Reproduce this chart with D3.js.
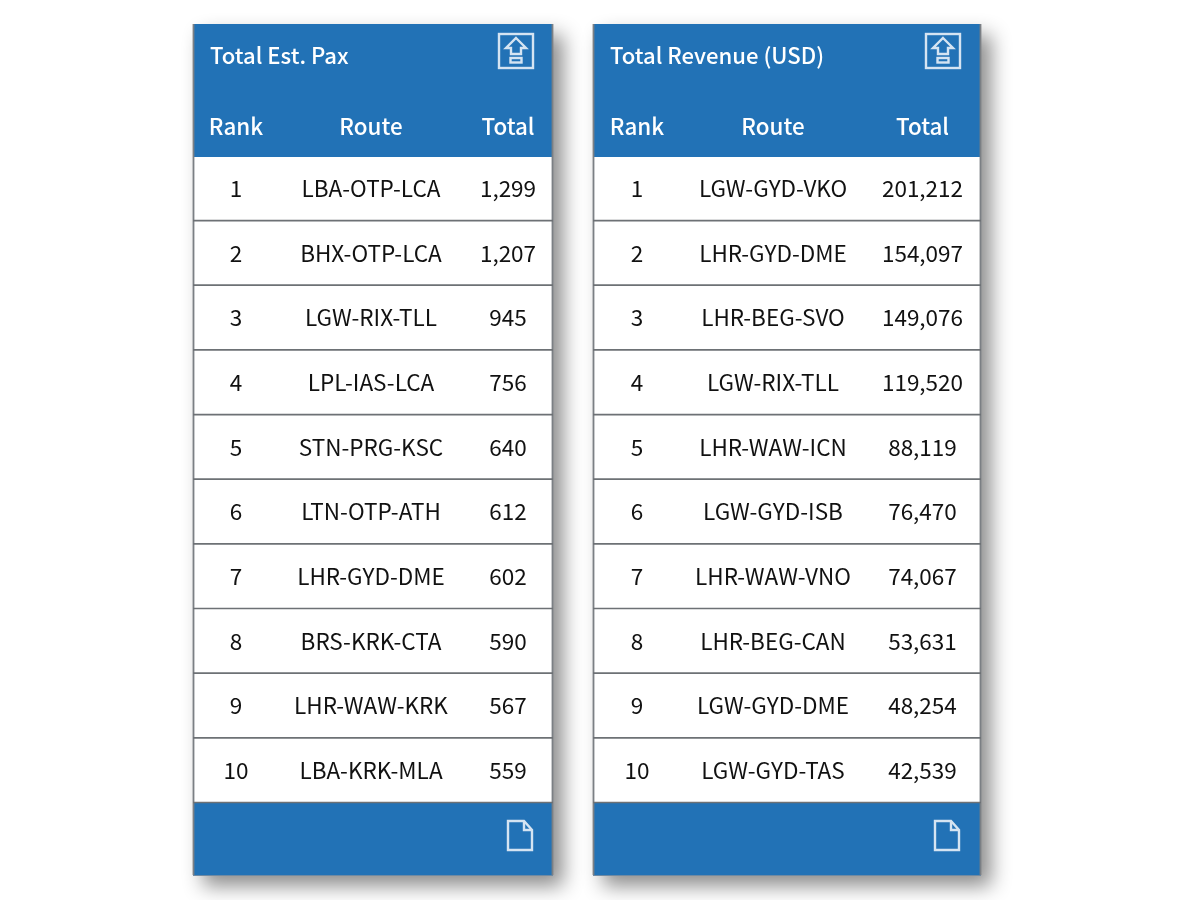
<!DOCTYPE html>
<html><head><meta charset="utf-8">
<script src="https://cdn.jsdelivr.net/npm/d3@7"></script>
<style>html,body{margin:0;background:#fff}svg{display:block;filter:blur(0.4px)}text{font-family:"Noto Sans CJK JP","Noto Sans",sans-serif}</style>
</head><body><div id="c"></div>
<script>
const ranks=[1,2,3,4,5,6,7,8,9,10];
const paxRoutes=["LBA-OTP-LCA","BHX-OTP-LCA","LGW-RIX-TLL","LPL-IAS-LCA","STN-PRG-KSC","LTN-OTP-ATH","LHR-GYD-DME","BRS-KRK-CTA","LHR-WAW-KRK","LBA-KRK-MLA"];
const paxTotals=[1299,1207,945,756,640,612,602,590,567,559];
const revRoutes=["LGW-GYD-VKO","LHR-GYD-DME","LHR-BEG-SVO","LGW-RIX-TLL","LHR-WAW-ICN","LGW-GYD-ISB","LHR-WAW-VNO","LHR-BEG-CAN","LGW-GYD-DME","LGW-GYD-TAS"];
const revTotals=[201212,154097,149076,119520,88119,76470,74067,53631,48254,42539];
const headers=["Rank","Route","Total"];
const BLUE="#2372b6";
const fmt=d3.format(",");
const svg=d3.select("#c").append("svg").attr("width",1200).attr("height",900);
const defs=svg.append("defs");
const f=defs.append("filter").attr("id","sh").attr("x","-15%").attr("y","-10%").attr("width","140%").attr("height","125%");
f.append("feDropShadow").attr("dx",10).attr("dy",11).attr("stdDeviation",10).attr("flood-color","#000").attr("flood-opacity",0.45);
const y=d3.scaleBand().domain(ranks).range([156.6,803.2]);
function panel(o){
 const g=svg.append("g");
 const x0=o.x,x1=o.x+o.w;
 g.append("rect").attr("x",x0).attr("y",24).attr("width",o.w).attr("height",851).attr("fill",BLUE).attr("filter","url(#sh)");
 g.append("rect").attr("x",x0).attr("y",157).attr("width",o.w).attr("height",645).attr("fill","#fff");
 g.append("path").attr("d",`M${x0+.5},24V875M${x1-.5},24V875`).attr("stroke","#7b7f84").attr("stroke-width",1.8).attr("fill","none");
 g.append("path").attr("d",`M${x0},875.5H${x1}`).attr("stroke","#6f8aa3").attr("stroke-width",1);
 g.append("text").attr("x",x0+17).attr("y",64).attr("fill","#fff").attr("font-size",22.1).attr("font-weight",500).text(o.title);
 const xs=o.cols;
 g.selectAll(".h").data(headers).join("text").attr("x",(d,i)=>xs[i]).attr("y",135).attr("text-anchor","middle").attr("fill","#fff").attr("font-size",22.4).attr("font-weight",500).text(d=>d);
 const rows=g.selectAll(".r").data(ranks.map((r,i)=>({r,route:o.routes[i],total:o.totals[i]}))).join("g").attr("transform",d=>`translate(0,${y(d.r)})`);
 rows.append("line").attr("x1",x0).attr("x2",x1).attr("y1",y.bandwidth()-.7).attr("y2",y.bandwidth()-.7).attr("stroke","#6d7175").attr("stroke-width",1.7);
 const t=(v,i)=>rows.append("text").attr("x",xs[i]).attr("y",40.5).attr("text-anchor","middle").attr("fill","#111").attr("font-size",22.5).text(v);
 t(d=>d.r,0);t(d=>d.route,1);t(d=>fmt(d.total),2);
 const ic=g.append("g").attr("transform",`translate(${o.icon},33)`).attr("fill","none").attr("stroke","#d5e4f2").attr("stroke-width",2.4);
 ic.append("rect").attr("x",1).attr("y",1).attr("width",34).attr("height",34);
 ic.append("path").attr("d","M18,5L28,15H23V21H13V15H8Z");
 ic.append("rect").attr("x",12.5).attr("y",25).attr("width",11).attr("height",4.5);
 const dc=g.append("g").attr("transform",`translate(${o.doc},820)`).attr("fill","none").attr("stroke","#d5e4f2").attr("stroke-width",2.4);
 dc.append("path").attr("d","M1,1H17L25,10V30H1Z");
 dc.append("path").attr("d","M17,1V10H25");
}
panel({x:193,w:360,title:"Total Est. Pax",cols:[236,371,508],routes:paxRoutes,totals:paxTotals,icon:498,doc:507});
panel({x:593,w:388,title:"Total Revenue (USD)",cols:[637,773,922.5],routes:revRoutes,totals:revTotals,icon:925,doc:934});
</script></body></html>
